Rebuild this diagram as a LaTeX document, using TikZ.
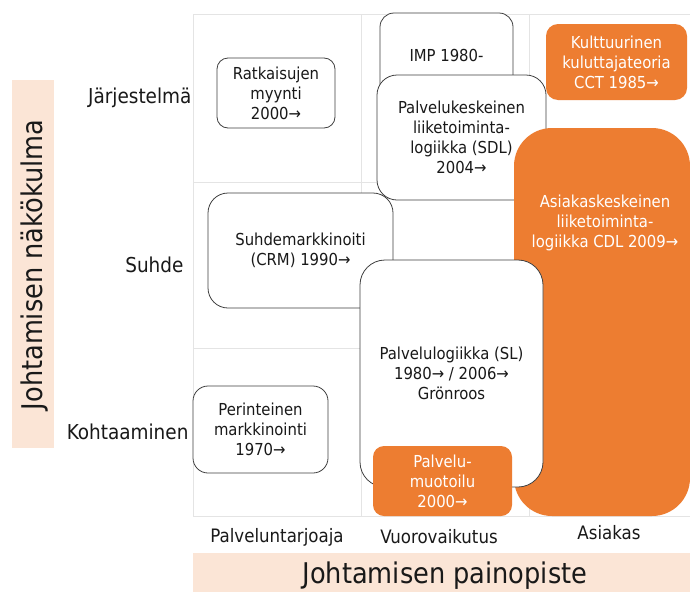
\documentclass[tikz,border=0pt]{standalone}
\usepackage{fontspec}
\setmainfont{DejaVu Sans Condensed}
\definecolor{accent}{HTML}{ED7D31}
\definecolor{peach}{HTML}{FBE5D6}
\definecolor{gridgray}{HTML}{E4E4E4}
\definecolor{edge}{HTML}{404040}
\tikzset{
  box/.style={draw=edge, line width=0.8pt, fill=white, align=center,
    inner sep=0pt, font=\fontsize{16.5}{20}\selectfont, text=black!90},
  hot/.style={box, draw=none, fill=accent, text=white},
  rowlabel/.style={font=\fontsize{20.5}{24}\selectfont, text=black!90},
  collabel/.style={font=\fontsize{18.5}{22}\selectfont, text=black!90},
  bandtext/.style={font=\fontsize{28.5}{32}\selectfont, text=black!90},
}
\newcommand{\ar}{→}
\begin{document}
\begin{tikzpicture}[x=1pt,y=-1pt]
\useasboundingbox (0,0) rectangle (690,592);
\fill[white] (0,0) rectangle (690,592);

% grid of the 3 x 3 field
\foreach \yy in {14,182,348,516}
  \draw[gridgray, line width=0.8pt] (193,\yy) -- (690,\yy);
\foreach \xx in {193,361,529}
  \draw[gridgray, line width=0.8pt] (\xx,14) -- (\xx,516);

% axis bands
\node[fill=peach, minimum width=42pt, minimum height=368pt, inner sep=0pt] (vband) at (33,264) {};
\node[bandtext, rotate=90] (vtitle) at (35,265) {Johtamisen näkökulma};
\node[fill=peach, minimum width=497pt, minimum height=39pt, inner sep=0pt] (hband) at (441.5,572.5) {};
\node[bandtext] (htitle) at (445,576) {Johtamisen painopiste};

% row labels
\node[rowlabel, anchor=east] (r1) at (195,98) {Järjestelmä};
\node[rowlabel, anchor=east] (r2) at (187,265) {Suhde};
\node[rowlabel, anchor=east] (r3) at (192,432) {Kohtaaminen};

% column labels
\node[collabel] (c1) at (277,537) {Palveluntarjoaja};
\node[collabel] (c2) at (439,537) {Vuorovaikutus};
\node[collabel] (c3) at (609,533) {Asiakas};

% boxes, back to front
\node[box, rounded corners=14pt, minimum width=133pt, minimum height=84pt] (imp) at (446.5,55) {IMP 1980-};
\node[box, rounded corners=20pt, minimum width=185pt, minimum height=115pt] (crm) at (300.5,250.5) {Suhdemarkkinoiti\\(CRM) 1990\ar};
\node[box, rounded corners=20pt, minimum width=169pt, minimum height=125pt] (sdl) at (461.5,137.5) {Palvelukeskeinen\\liiketoiminta-\\logiikka (SDL)\\2004\ar};
\node[hot, rounded corners=12pt, minimum width=141pt, minimum height=76pt] (cct) at (616.5,62) {Kulttuurinen\\kuluttajateoria\\CCT 1985\ar};
\node[hot, rounded corners=38pt, minimum width=176pt, minimum height=388pt] (cdl) at (602,322) {};
\node[box, draw=none, fill=none, text=white] (cdltext) at (605,223) {Asiakaskeskeinen\\liiketoiminta-\\logiikka CDL 2009\ar};
\node[box, rounded corners=25pt, minimum width=183pt, minimum height=227pt] (sl) at (451.5,373.5) {Palvelulogiikka (SL)\\1980\ar{} / 2006\ar\\Grönroos};
\node[hot, rounded corners=11pt, minimum width=139pt, minimum height=70pt] (sd) at (442.5,481) {Palvelu-\\muotoilu\\2000\ar};
\node[box, rounded corners=11pt, minimum width=118pt, minimum height=70pt] (sol) at (276,93) {Ratkaisujen\\myynti\\2000\ar};
\node[box, rounded corners=15pt, minimum width=135pt, minimum height=87pt] (trad) at (260.5,429.5) {Perinteinen\\markkinointi\\1970\ar};
\end{tikzpicture}
\end{document}
